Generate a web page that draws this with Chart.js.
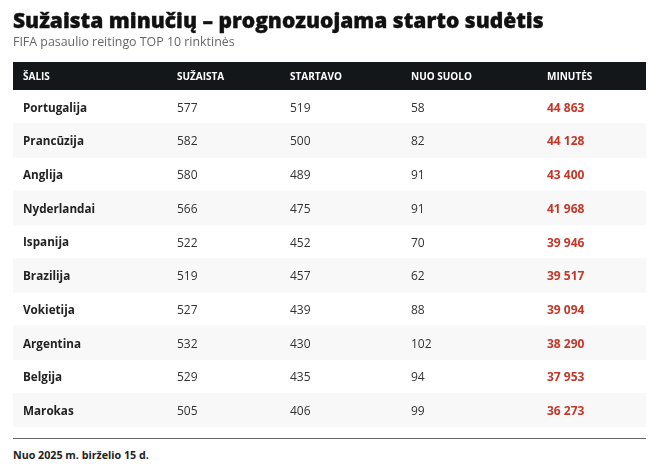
<!DOCTYPE html>
<html lang="lt">
<head>
<meta charset="utf-8">
<title>Sužaista minučių</title>
<script src="https://cdn.jsdelivr.net/npm/chart.js@4"></script>
<style>
  html, body { margin: 0; padding: 0; background: #fff; }
  body { position: relative; width: 662px; height: 475px; overflow: hidden; font-family: "Open Sans", sans-serif; }
  canvas { display: block; }
  h1, h2 { position: absolute; left: 13px; margin: 0; white-space: nowrap; }
  h1 {
    top: 6px;
    font-size: 21px;
    font-weight: 800;
    line-height: 28px;
    color: #111;
    -webkit-text-stroke: 0.35px #111;
  }
  h2 {
    top: 34px;
    font-size: 12.4px;
    font-weight: 400;
    line-height: 16px;
    color: #666;
  }
  #source {
    margin: 11px 16px 0 13px;
    padding-top: 8px;
    border-top: 1px solid #666;
    font-size: 10.7px;
    font-weight: 700;
    line-height: 16px;
    color: #222;
  }
</style>
</head>
<body>
<h1>Sužaista minučių – prognozuojama starto sudėtis</h1>
<h2>FIFA pasaulio reitingo TOP 10 rinktinės</h2>
<canvas id="chart" width="662" height="427"></canvas>
<div id="source">Nuo 2025 m. birželio 15 d.</div>
<script>
const FONT = "'Open Sans', sans-serif";

const headers = ["ŠALIS", "SUŽAISTA", "STARTAVO", "NUO SUOLO", "MINUTĖS"];
const countries = ["Portugalija", "Prancūzija", "Anglija", "Nyderlandai", "Ispanija", "Brazilija", "Vokietija", "Argentina", "Belgija", "Marokas"];
const played = [577, 582, 580, 566, 522, 519, 527, 532, 529, 505];
const started = [519, 500, 489, 475, 452, 457, 439, 430, 435, 406];
const fromBench = [58, 82, 91, 91, 70, 62, 88, 102, 94, 99];
const minutes = [44863, 44128, 43400, 41968, 39946, 39517, 39094, 38290, 37953, 36273];

// where each column starts on the x scale, table width is 633
const colStart = [10, 164, 277, 398, 534];
const TABLE_WIDTH = 633;
const TEXT_NUDGE = 1.5;

function formatMinutes(v) {
  return String(v).replace(/\B(?=(\d{3})+$)/g, " ");
}

// fills the cells from the arrays above, using the chart's own scales
const cellText = {
  id: "cellText",
  afterDatasetsDraw(chart) {
    const { ctx, scales: { x, y } } = chart;
    ctx.save();
    ctx.textAlign = "left";
    ctx.textBaseline = "middle";
    countries.forEach((c, i) => {
      const py = y.getPixelForValue(i) + TEXT_NUDGE;
      ctx.font = `400 12px ${FONT}`;
      ctx.fillStyle = "#333";
      ctx.fillText(played[i], x.getPixelForValue(colStart[1]), py);
      ctx.fillText(started[i], x.getPixelForValue(colStart[2]), py);
      ctx.fillText(fromBench[i], x.getPixelForValue(colStart[3]), py);
      ctx.font = `700 12px ${FONT}`;
      ctx.fillStyle = "#c0392b";
      ctx.fillText(formatMinutes(minutes[i]), x.getPixelForValue(colStart[4]), py);
    });
    ctx.restore();
  },
};

new Chart(document.getElementById("chart"), {
  type: "bar",
  data: {
    labels: countries,
    datasets: [{
      // every second row gets the light stripe
      data: countries.map((c, i) => (i % 2 ? [0, TABLE_WIDTH] : null)),
      backgroundColor: "#f8f8f8",
      barPercentage: 1,
      categoryPercentage: 1,
    }],
  },
  plugins: [cellText],
  options: {
    indexAxis: "y",
    responsive: false,
    animation: false,
    layout: { padding: { left: 13, right: 16, top: 62, bottom: 0 } },
    plugins: {
      legend: { display: false },
      tooltip: { enabled: false },
    },
    scales: {
      x: {
        type: "linear",
        position: "top",
        min: 0,
        max: TABLE_WIDTH,
        backgroundColor: "#14171a",
        border: { display: false },
        grid: { display: false, drawTicks: false },
        afterBuildTicks(axis) {
          axis.ticks = colStart.map((value) => ({ value }));
        },
        afterFit(axis) {
          axis.height = 28;
        },
        ticks: {
          autoSkip: false,
          maxRotation: 0,
          align: "start",
          padding: 7,
          z: 1,
          color: "#fff",
          font: { family: FONT, size: 10, weight: "700" },
          callback: (value, i) => headers[i],
        },
      },
      y: {
        type: "category",
        border: { display: false },
        grid: { display: false, drawTicks: false },
        afterFit(axis) {
          // mirrored labels sit inside the rows, the axis needs no room of its own
          axis.width = 0;
          axis.paddingTop = 0;
          axis.paddingBottom = 0;
        },
        ticks: {
          mirror: true,
          padding: 10,
          labelOffset: TEXT_NUDGE,
          z: 1,
          color: "#222",
          font: { family: FONT, size: 11.7, weight: "700" },
        },
      },
    },
  },
});
</script>
</body>
</html>
